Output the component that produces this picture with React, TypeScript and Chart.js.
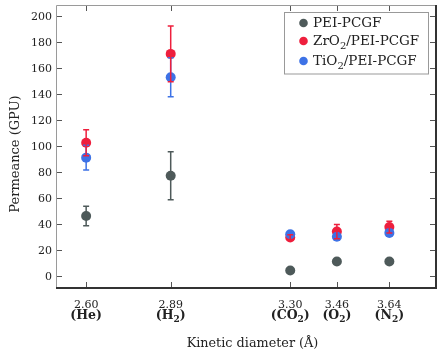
import { useEffect, useRef } from "react";
import { Chart, registerables } from "chart.js";
Chart.register(...registerables);

const kineticDiameters = [2.6, 2.89, 3.3, 3.46, 3.64];
const xTickLabels = ["2.60", "2.89", "3.30", "3.46", "3.64"];
const gasLabels = ["(He)", "(H_2)", "(CO_2)", "(O_2)", "(N_2)"];
const yTickValues = [0, 20, 40, 60, 80, 100, 120, 140, 160, 180, 200];
const seriesNames = ["PEI-PCGF", "ZrO_2/PEI-PCGF", "TiO_2/PEI-PCGF"];
const peiValues = [46, 77, 4, 11, 11];
const peiErrors = [7.5, 18.5, 1.5, 1.5, 1.5];
const zrValues = [102.5, 171, 29.5, 34, 37.5];
const zrErrors = [10, 21.5, 2, 5.5, 4.5];
const tiValues = [91, 153, 32, 30, 33];
const tiErrors = [9.5, 15, 2, 2, 2];
const seriesColors = ["#4e5a5a", "#ee1f3d", "#3d72e6"];

const SERIF = "'DejaVu Serif', serif";
const TEXT = "#222";

function drawRich(ctx: CanvasRenderingContext2D, text: string, x: number, y: number, size: number, bold: boolean, align: "left" | "center" | "right", subScale = 0.7) {
  const parts = text.split(/(_\w)/).filter((p) => p.length > 0);
  const main = `${bold ? "bold " : ""}${size}px ${SERIF}`;
  const sub = `${bold ? "bold " : ""}${Math.round(size * subScale)}px ${SERIF}`;
  let total = 0;
  const items = parts.map((p) => {
    const isSub = p.startsWith("_");
    const t = isSub ? p.slice(1) : p;
    ctx.font = isSub ? sub : main;
    const w = ctx.measureText(t).width;
    total += w;
    return { t, isSub, w };
  });
  let cx = align === "left" ? x : align === "center" ? x - total / 2 : x - total;
  ctx.textAlign = "left";
  ctx.textBaseline = "alphabetic";
  for (const it of items) {
    ctx.font = it.isSub ? sub : main;
    ctx.fillText(it.t, cx, it.isSub ? y + size * 0.25 : y);
    cx += it.w;
  }
}

const decorPlugin = {
  id: "decor",
  afterDatasetsDraw(chart: any) {
    const ctx: CanvasRenderingContext2D = chart.ctx;
    const xs = chart.scales.x;
    const ys = chart.scales.y;
    const drawOrder = [0, 2, 1];
    ctx.save();
    for (const di of drawOrder) {
      const ds = chart.data.datasets[di];
      ctx.strokeStyle = ds.backgroundColor;
      ctx.lineWidth = 1.5;
      ds.data.forEach((pt: any, i: number) => {
        const e = ds.errors[i];
        const px = xs.getPixelForValue(pt.x);
        const y1 = ys.getPixelForValue(pt.y + e);
        const y2 = ys.getPixelForValue(pt.y - e);
        ctx.beginPath();
        ctx.moveTo(px, y1);
        ctx.lineTo(px, y2);
        ctx.moveTo(px - 3, y1);
        ctx.lineTo(px + 3, y1);
        ctx.moveTo(px - 3, y2);
        ctx.lineTo(px + 3, y2);
        ctx.stroke();
      });
    }
    ctx.restore();
  },
  afterDraw(chart: any) {
    const ctx: CanvasRenderingContext2D = chart.ctx;
    const { left, right, top, bottom } = chart.chartArea;
    const xs = chart.scales.x;
    const ys = chart.scales.y;
    ctx.save();
    // frame
    ctx.strokeStyle = "#9a9a9a";
    ctx.lineWidth = 1;
    ctx.beginPath();
    ctx.moveTo(left - 0.5, bottom);
    ctx.lineTo(left - 0.5, top + 0.5);
    ctx.lineTo(right, top + 0.5);
    ctx.stroke();
    ctx.strokeStyle = "#333";
    ctx.lineWidth = 2;
    ctx.beginPath();
    ctx.moveTo(left - 1, bottom);
    ctx.lineTo(right, bottom);
    ctx.moveTo(right, bottom + 1);
    ctx.lineTo(right, top);
    ctx.stroke();
    // ticks
    ctx.strokeStyle = "#555";
    ctx.lineWidth = 1;
    ctx.beginPath();
    for (const v of yTickValues) {
      const py = Math.round(ys.getPixelForValue(v)) + 0.5;
      ctx.moveTo(left, py);
      ctx.lineTo(left + 5, py);
      ctx.moveTo(right - 1, py);
      ctx.lineTo(right - 6, py);
    }
    for (const v of kineticDiameters) {
      const px = Math.round(xs.getPixelForValue(v)) + 0.5;
      ctx.moveTo(px, bottom - 1);
      ctx.lineTo(px, bottom - 6);
      ctx.moveTo(px, top + 1);
      ctx.lineTo(px, top + 6);
    }
    ctx.stroke();
    // labels
    ctx.fillStyle = TEXT;
    ctx.font = `11px ${SERIF}`;
    ctx.textAlign = "right";
    ctx.textBaseline = "alphabetic";
    for (const v of yTickValues) {
      ctx.fillText(String(v), left - 5, ys.getPixelForValue(v) + 4);
    }
    kineticDiameters.forEach((v, i) => {
      const px = xs.getPixelForValue(v);
      ctx.textAlign = "center";
      ctx.font = `11px ${SERIF}`;
      ctx.fillText(xTickLabels[i], px, bottom + 20);
      drawRich(ctx, gasLabels[i], px, bottom + 31, 12.5, true, "center", 0.68);
    });
    // axis titles
    drawRich(ctx, "Kinetic diameter (Å)", (left + right) / 2 + 6, bottom + 58.5, 12.8, false, "center");
    ctx.save();
    ctx.translate(19, 154);
    ctx.rotate(-Math.PI / 2);
    drawRich(ctx, "Permeance (GPU)", 0, 0, 13, false, "center");
    ctx.restore();
    // legend
    const lx = right - 151.5;
    const ly = top + 7.5;
    ctx.fillStyle = "#fff";
    ctx.fillRect(lx, ly, 144, 61.5);
    ctx.strokeStyle = "#999";
    ctx.lineWidth = 1;
    ctx.strokeRect(lx, ly, 144, 61.5);
    const rowBase = [22.3, 40.3, 60.3];
    seriesNames.forEach((name, i) => {
      ctx.fillStyle = seriesColors[i];
      ctx.beginPath();
      ctx.arc(lx + 19, top + rowBase[i] - 4.3, 4.3, 0, Math.PI * 2);
      ctx.fill();
      ctx.fillStyle = TEXT;
      drawRich(ctx, name, lx + 28.5, top + rowBase[i], 13.5, false, "left", 0.75);
    });
    ctx.restore();
  },
};

export default function App() {
  const ref = useRef<HTMLCanvasElement>(null);
  useEffect(() => {
    if (!ref.current) return;
    const mk = (vals: number[], errs: number[], i: number, order: number) => ({
      label: seriesNames[i],
      data: kineticDiameters.map((x, k) => ({ x, y: vals[k] })),
      errors: errs,
      backgroundColor: seriesColors[i],
      borderColor: seriesColors[i],
      pointRadius: 5,
      pointBorderWidth: 0,
      showLine: false,
      order,
    });
    const chart = new Chart(ref.current, {
      type: "scatter",
      data: {
        datasets: [
          mk(peiValues, peiErrors, 0, 2),
          mk(zrValues, zrErrors, 1, 1),
          mk(tiValues, tiErrors, 2, 0),
        ] as any,
      },
      options: {
        animation: false,
        responsive: false,
        layout: { padding: { left: 57, top: 5, right: 7, bottom: 71 } },
        plugins: { legend: { display: false }, tooltip: { enabled: false } },
        scales: {
          x: { type: "linear", display: false, min: 2.5, max: 3.8 },
          y: { type: "linear", display: false, min: -9.5, max: 208.7 },
        },
      },
      plugins: [decorPlugin],
    });
    return () => chart.destroy();
  }, []);
  return (
    <div style={{ position: "fixed", left: 0, top: 0, width: 443, height: 359, background: "#fff" }}>
      <canvas ref={ref} width={443} height={359} style={{ width: 443, height: 359 }} />
    </div>
  );
}
